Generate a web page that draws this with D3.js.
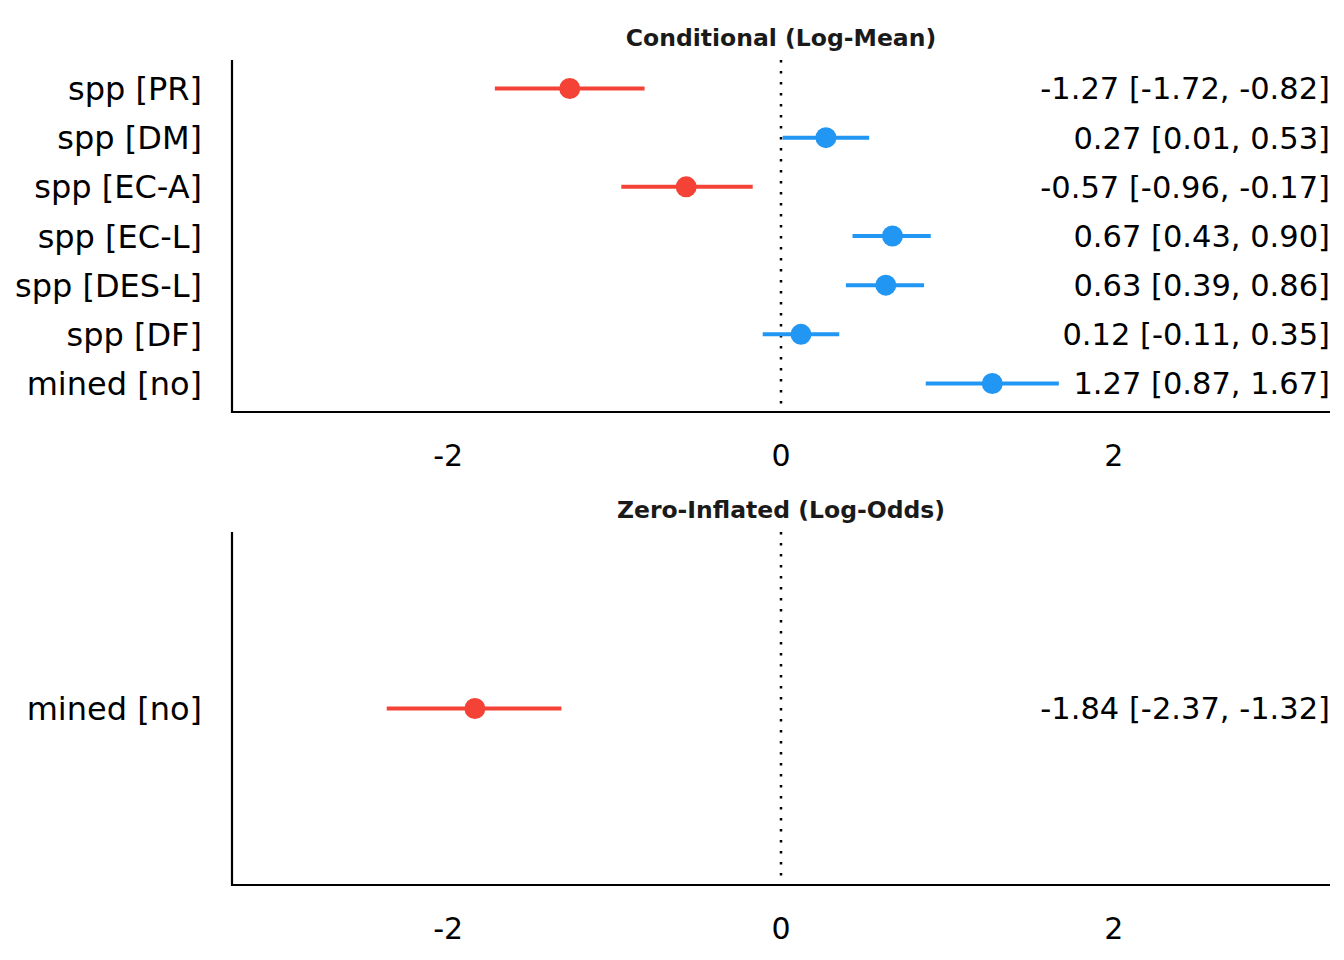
<!DOCTYPE html>
<html>
<head>
<meta charset="utf-8">
<script src="https://cdn.jsdelivr.net/npm/d3@7"></script>
<style>
  body { margin: 0; background: #fff; }
  svg { font-family: "DejaVu Sans", sans-serif; }
</style>
</head>
<body>
<svg id="chart" width="1344" height="960"></svg>
<script>
// conditional model (log-mean)
var condTerms = ["spp [PR]", "spp [DM]", "spp [EC-A]", "spp [EC-L]", "spp [DES-L]", "spp [DF]", "mined [no]"];
var condEst = [-1.27, 0.27, -0.57, 0.67, 0.63, 0.12, 1.27];
var condLow = [-1.72, 0.01, -0.96, 0.43, 0.39, -0.11, 0.87];
var condHigh = [-0.82, 0.53, -0.17, 0.90, 0.86, 0.35, 1.67];

// zero-inflated model (log-odds)
var ziTerms = ["mined [no]"];
var ziEst = [-1.84];
var ziLow = [-2.37];
var ziHigh = [-1.32];

var xTicks = [-2, 0, 2];

var red = "#F44336", blue = "#2196F3";

var svg = d3.select("#chart");

function fmt(v) { return v.toFixed(2); }

function drawPanel(title, terms, est, low, high, top, bottom) {
    var left = 232, right = 1330;
    var x = d3.scaleLinear().domain([-3.3, 3.3]).range([left, right]);
    var y = d3.scalePoint().domain(terms).range([top, bottom]).padding(0.58);
    if (terms.length === 1) y.padding(0.5);

    var g = svg.append("g");

    var rows = terms.map(function (t, i) {
        return { term: t, est: est[i], low: low[i], high: high[i] };
    });

    // title
    g.append("text")
        .attr("x", x(0))
        .attr("y", top - 14)
        .attr("text-anchor", "middle")
        .style("font-weight", "bold")
        .style("font-size", "23.5px")
        .style("fill", "#1a1a1a")
        .text(title);

    // zero reference line
    g.append("line")
        .attr("x1", x(0)).attr("x2", x(0))
        .attr("y1", top).attr("y2", bottom)
        .style("stroke", "#000")
        .style("stroke-width", 2.5)
        .style("stroke-dasharray", "2.5,8.5");

    // axes lines (no ticks)
    g.append("line")
        .attr("x1", left).attr("x2", left)
        .attr("y1", top).attr("y2", bottom + 1)
        .style("stroke", "#000").style("stroke-width", 2.2);
    g.append("line")
        .attr("x1", left - 1).attr("x2", right)
        .attr("y1", bottom).attr("y2", bottom)
        .style("stroke", "#000").style("stroke-width", 2.2);

    // x tick labels
    g.selectAll(".xtick")
        .data(xTicks)
        .enter()
        .append("text")
        .attr("class", "xtick")
        .attr("x", function (d) { return x(d); })
        .attr("y", bottom + 54)
        .attr("text-anchor", "middle")
        .style("font-size", "30px")
        .text(function (d) { return d; });

    // y labels
    g.selectAll(".ylab")
        .data(rows)
        .enter()
        .append("text")
        .attr("class", "ylab")
        .attr("x", 202)
        .attr("y", function (d) { return y(d.term); })
        .attr("dy", "0.36em")
        .attr("text-anchor", "end")
        .style("font-size", "32px")
        .text(function (d) { return d.term; });

    // error bars
    g.selectAll(".err")
        .data(rows)
        .enter()
        .append("line")
        .attr("class", "err")
        .attr("x1", function (d) { return x(d.low); })
        .attr("x2", function (d) { return x(d.high); })
        .attr("y1", function (d) { return y(d.term); })
        .attr("y2", function (d) { return y(d.term); })
        .style("stroke", function (d) { return d.est < 0 ? red : blue; })
        .style("stroke-width", 4);

    g.selectAll(".pt")
        .data(rows)
        .enter()
        .append("circle")
        .attr("class", "pt")
        .attr("cx", function (d) { return x(d.est); })
        .attr("cy", function (d) { return y(d.term); })
        .attr("r", 10.5)
        .style("fill", function (d) { return d.est < 0 ? red : blue; });

    // value labels
    g.selectAll(".val")
        .data(rows)
        .enter()
        .append("text")
        .attr("class", "val")
        .attr("x", right)
        .attr("y", function (d) { return y(d.term); })
        .attr("dy", "0.36em")
        .attr("text-anchor", "end")
        .style("font-size", "30.5px")
        .text(function (d) {
            return fmt(d.est) + " [" + fmt(d.low) + ", " + fmt(d.high) + "]";
        });
}

drawPanel("Conditional (Log-Mean)", condTerms, condEst, condLow, condHigh, 60, 412);
drawPanel("Zero-Inflated (Log-Odds)", ziTerms, ziEst, ziLow, ziHigh, 532, 885);
</script>
</body>
</html>
